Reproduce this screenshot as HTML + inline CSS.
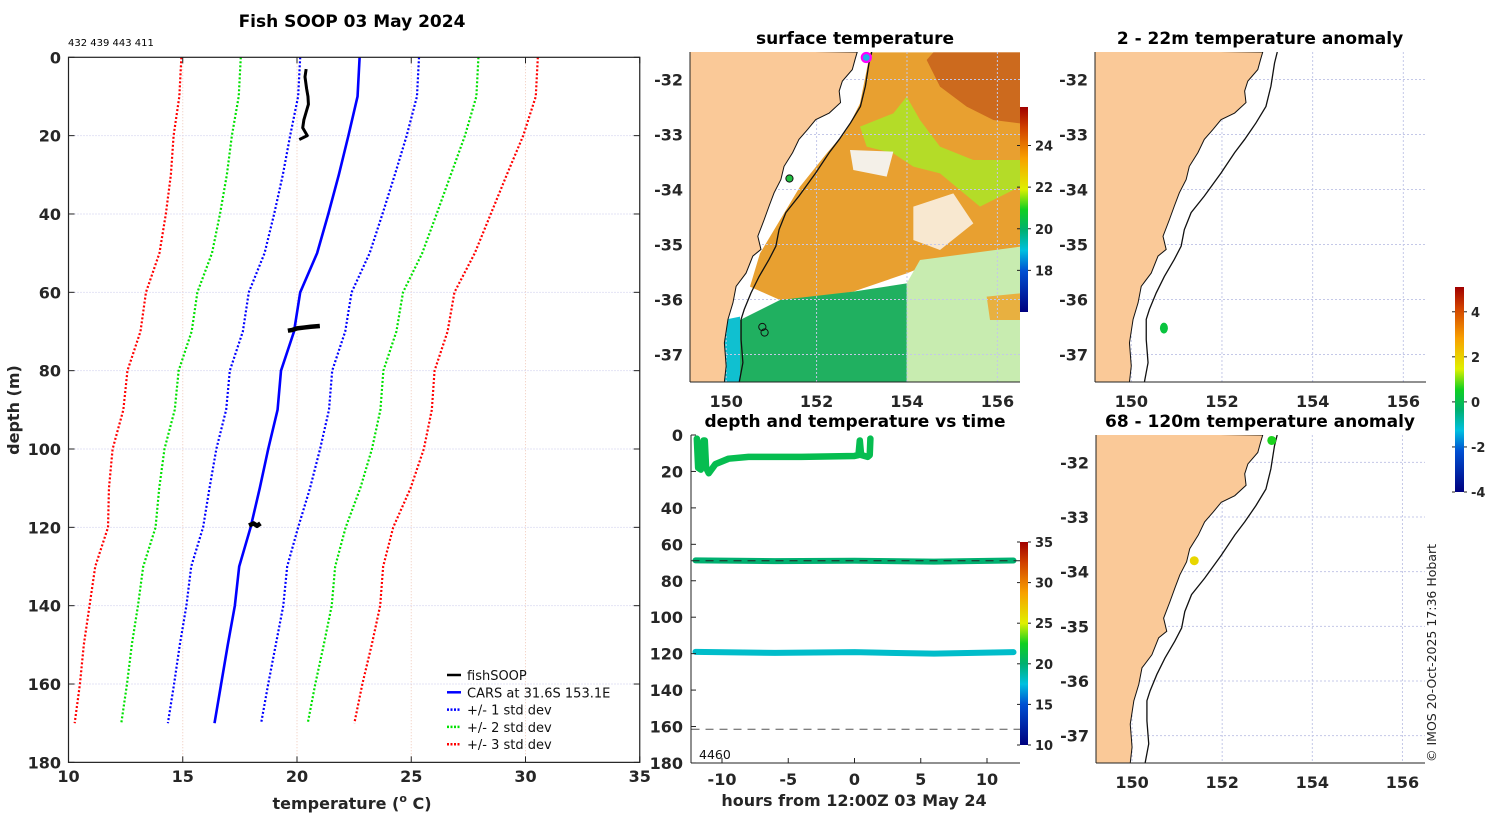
<!DOCTYPE html>
<html><head><meta charset="utf-8"><style>
html,body{margin:0;padding:0;background:#fff;}
svg{display:block;font-family:"DejaVu Sans","Liberation Sans",sans-serif;}
.tk{font-size:16px;font-weight:bold;fill:#262626;}
.ttl{font-size:17px;font-weight:bold;fill:#000;}
.cb{font-size:13px;font-weight:bold;fill:#262626;}
</style></head><body>
<svg id="fig" width="1500" height="820" viewBox="0 0 1500 820"></svg>
<script>
// ---------- profile chart data ----------
const profDepths=[0,10,20,30,40,50,60,70,80,90,100,110,120,130,140,150,160,170];
const carsTemps=[22.74,22.65,22.25,21.83,21.37,20.88,20.14,19.87,19.3,19.15,18.74,18.37,17.97,17.47,17.28,16.97,16.68,16.39];
const carsStd=[2.6,2.6,2.55,2.45,2.37,2.3,2.25,2.24,2.24,2.25,2.27,2.2,2.08,2.1,2.12,2.1,2.06,2.04];
const fishGroups=[0,0,0,0,0,0,0,0,0,0,1,1,1,1,1,1,2,2,2,2];
const fishDepths=[3,5,8,10,12,14,16,18,20,21,69.8,69.6,69.2,69,68.8,68.6,119.5,119,119.6,119];
const fishTemps=[20.4,20.35,20.42,20.48,20.5,20.4,20.3,20.25,20.45,20.1,19.6,19.8,20.0,20.3,20.6,21.0,17.9,18.1,18.25,18.4];
const tempTicks=[10,15,20,25,30,35];
const depthTicks=[0,20,40,60,80,100,120,140,160,180];
// ---------- time-depth chart data ----------
const shallowHours=[-11.9,-11.8,-11.6,-11.4,-11.3,-11.2,-11.0,-10.5,-9.5,-8,-4,0,0.3,0.4,0.5,1.0,1.15,1.2];
const shallowDepths=[2,18,19,3,3,18,21,16,13,12,12,11.5,11,3,11,12,11,2];
const shallowTemp=21.0;
const midHours=[-12,-6,0,6,12];
const midDepths=[68.8,69.2,69,69.5,68.9];
const midTemp=20.0;
const deepHours=[-12,-6,0,6,12];
const deepDepths=[119,119.6,119.2,120,119.2];
const deepTemp=18.0;
const hourTicks=[-10,-5,0,5,10];
const tdDepthTicks=[0,20,40,60,80,100,120,140,160,180];
// ---------- anomaly markers ----------
const anomShallowLon=[150.72],anomShallowLat=[-36.52],anomShallowVal=[0.2];
const anomDeepLon=[153.1,151.38],anomDeepLat=[-31.6,-33.8],anomDeepVal=[0.6,1.9];

const NS='http://www.w3.org/2000/svg';
const svg=document.getElementById('fig');
function el(tag,attrs,parent){const e=document.createElementNS(NS,tag);for(const k in attrs)e.setAttribute(k,attrs[k]);(parent||svg).appendChild(e);return e;}
function txt(s,x,y,cls,anchor,parent,extra){const t=el('text',Object.assign({x:x,y:y,class:cls,'text-anchor':anchor||'middle'},extra||{}),parent);t.textContent=s;return t;}
const stops=[[0,[0,0,127]],[0.2,[0,80,210]],[0.3,[0,192,224]],[0.4,[0,176,112]],[0.5,[16,208,32]],[0.6,[224,240,0]],[0.75,[248,160,0]],[0.9,[208,64,0]],[1,[160,0,0]]];
function cmap(t){t=Math.max(0,Math.min(1,t));for(let i=1;i<stops.length;i++){if(t<=stops[i][0]){const a=stops[i-1],b=stops[i];const f=(t-a[0])/(b[0]-a[0]);const c=a[1].map((v,j)=>Math.round(v+(b[1][j]-v)*f));return `rgb(${c[0]},${c[1]},${c[2]})`;}}return 'rgb(160,0,0)';}
function colorbar(x,y,w,h,vmin,vmax,ticks,name){
  const g=el('g',{});
  const id='grad'+name;const lg=el('linearGradient',{id:id,x1:0,y1:1,x2:0,y2:0},el('defs',{},g));
  for(let i=0;i<=20;i++)el('stop',{offset:i/20,'stop-color':cmap(i/20)},lg);
  el('rect',{x:x,y:y,width:w,height:h,fill:`url(#${id})`},g);
  ticks.forEach(v=>{const yy=y+h-(v-vmin)/(vmax-vmin)*h;el('line',{x1:x-3,x2:x,y1:yy,y2:yy,stroke:'#222'},g);el('line',{x1:x+w,x2:x+w+3,y1:yy,y2:yy,stroke:'#222'},g);txt(String(v),x+w+7,yy+5,'cb','start',g);});
}

// ================= LEFT PROFILE =================
const X=t=>68.5+(t-10)*22.85, Y=d=>57.3+d*3.917;
const gp=el('g',{});
tempTicks.forEach(t=>{if(t>10&&t<35)el('line',{x1:X(t),x2:X(t),y1:Y(0),y2:Y(180),stroke:'#f0c8b8','stroke-dasharray':'1,2'},gp);});
depthTicks.forEach(d=>{if(d>0&&d<180)el('line',{x1:X(10),x2:X(35),y1:Y(d),y2:Y(d),stroke:'#c8c8ea','stroke-dasharray':'1,2'},gp);});
function profLine(k,color,name,dash){
  const pts=profDepths.map((d,i)=>X(carsTemps[i]+k*carsStd[i])+','+Y(d)).join(' ');
  const p=el('polyline',{points:pts,fill:'none',stroke:color,'stroke-width':dash?2.2:2.6},gp);
  if(dash)p.setAttribute('stroke-dasharray','2,2');
  
}
profLine(-3,'#ff0000','minus-3-std-line',1);profLine(3,'#ff0000','plus-3-std-line',1);
profLine(-2,'#00e000','minus-2-std-line',1);profLine(2,'#00e000','plus-2-std-line',1);
profLine(-1,'#0000ff','minus-1-std-line',1);profLine(1,'#0000ff','plus-1-std-line',1);
profLine(0,'#0000ff','cars-line',0);
[0,1,2].forEach(g=>{const pts=[];fishDepths.forEach((d,i)=>{if(fishGroups[i]===g)pts.push(X(fishTemps[i])+','+Y(d));});
  const p=el('polyline',{points:pts.join(' '),fill:'none',stroke:'#000','stroke-width':g===0?3:4.5,'stroke-linejoin':'round'},gp);
  });
el('rect',{x:X(10),y:Y(0),width:X(35)-X(10),height:Y(180)-Y(0),fill:'none',stroke:'#222','stroke-width':1.2},gp);
tempTicks.forEach(t=>{el('line',{x1:X(t),x2:X(t),y1:Y(0),y2:Y(0)+6,stroke:'#222'},gp);el('line',{x1:X(t),x2:X(t),y1:Y(180),y2:Y(180)-6,stroke:'#222'},gp);txt(String(t),X(t),782,'tk','middle',gp);});
depthTicks.forEach(d=>{el('line',{x1:X(10),x2:X(10)+6,y1:Y(d),y2:Y(d),stroke:'#222'},gp);el('line',{x1:X(35),x2:X(35)-6,y1:Y(d),y2:Y(d),stroke:'#222'},gp);txt(String(d),61,Y(d)+6,'tk','end',gp);});
let t1=txt('Fish SOOP 03 May 2024',352,27,'ttl','middle',gp);
txt('432 439 443 411',68,46,'','start',gp,{'font-size':'10px',fill:'#000'});
let xl=el('text',{x:352,y:809,class:'tk','text-anchor':'middle','font-size':'17'},gp);xl.innerHTML='temperature (<tspan font-size="11" dy="-7">o</tspan><tspan dy="7"> C)</tspan>';

let yl=txt('depth (m)',0,0,'tk','middle',gp,{transform:'translate(19,410) rotate(-90)','font-size':'17'});
const leg=[['fishSOOP','#000',0],['CARS at 31.6S 153.1E','#0000ff',0],['+/- 1 std dev','#0000ff',1],['+/- 2 std dev','#00e000',1],['+/- 3 std dev','#ff0000',1]];
leg.forEach((L,i)=>{const yy=675+i*17.3;const g=el('g',{},gp);
  const l=el('line',{x1:447,x2:461,y1:yy,y2:yy,stroke:L[1],'stroke-width':2.5},g);if(L[2])l.setAttribute('stroke-dasharray','2,1.5');
  txt(L[0],467,yy+5,'','start',g,{'font-size':'13px',fill:'#111'});});

// ================= MAPS =================
const coastLon=[152.90,152.85,152.79,152.57,152.50,152.53,152.28,151.98,151.80,151.61,151.47,151.28,151.21,151.06,150.95,150.84,150.70,150.77,150.59,150.44,150.22,150.15,150.04,149.96,150.00,149.96];
const coastLat=[-31.50,-31.64,-31.82,-32.03,-32.21,-32.42,-32.61,-32.73,-32.91,-33.09,-33.33,-33.58,-33.82,-34.06,-34.30,-34.55,-34.85,-35.09,-35.21,-35.52,-35.76,-36.06,-36.36,-36.79,-37.21,-37.50];
const isoLon=[153.22,153.16,153.08,152.97,152.75,152.50,152.28,151.98,151.61,151.32,151.17,151.10,150.95,150.73,150.55,150.40,150.33,150.33,150.37,150.29];
const isoLat=[-31.50,-31.70,-32.12,-32.49,-32.79,-33.09,-33.33,-33.70,-34.12,-34.42,-34.73,-35.03,-35.27,-35.58,-35.88,-36.18,-36.36,-36.73,-37.15,-37.50];
function makeMap(L,T,W,H,name,fill){
  const g=el('g',{});
  const mx=lon=>L+(lon-149.2)*W/7.3, my=lat=>T+(-31.5-lat)*H/6;
  const cid='clip'+name;el('rect',{x:L,y:T,width:W,height:H},el('clipPath',{id:cid},el('defs',{},g)));
  const inner=el('g',{'clip-path':`url(#${cid})`},g);
  el('rect',{x:L,y:T,width:W,height:H,fill:'#fff'},inner);
  if(fill)fill(inner);
  [150,152,154,156].forEach(v=>el('line',{x1:mx(v),x2:mx(v),y1:T,y2:T+H,stroke:'#c4c8e8','stroke-dasharray':'2,2'},inner));
  [-32,-33,-34,-35,-36,-37].forEach(v=>el('line',{x1:L,x2:L+W,y1:my(v),y2:my(v),stroke:'#c4c8e8','stroke-dasharray':'2,2'},inner));
  let land=coastLon.map((v,i)=>mx(v)+','+my(coastLat[i])).join(' ');
  const lp=el('polygon',{points:land+` ${L-2},${T+H+2} ${L-2},${T-2}`,fill:'#fac998',stroke:'#111','stroke-width':1},inner);
  
  const ip=el('polyline',{points:isoLon.map((v,i)=>mx(v)+','+my(isoLat[i])).join(' '),fill:'none',stroke:'#111','stroke-width':1.3},inner);
  
  el('line',{x1:L,x2:L,y1:T,y2:T+H,stroke:'#222'},g);el('line',{x1:L,x2:L+W,y1:T+H,y2:T+H,stroke:'#222'},g);
  [150,152,154,156].forEach(v=>txt(String(v),mx(v),T+H+25,'tk','middle',g));
  [-32,-33,-34,-35,-36,-37].forEach(v=>txt(String(v),L-7,my(v)+6,'tk','end',g));
  return {g,mx,my,inner};
}
// surface temperature map
const z3=(X,Y)=>(640+X/3)+','+(20+Y/3);
const poly=(arr,c,p,nm)=>{const e=el('polygon',{points:arr.map(a=>z3(a[0],a[1])).join(' '),fill:c},p);};
const m1=makeMap(690,52,330,330,'surface-temperature-map',inner=>{
  poly([[690,97],[1140,97],[1140,700],[900,720],[800,760],[640,815],[480,840],[420,840],[330,800],[360,700],[420,600],[480,500],[560,400],[620,330],[660,250],[680,150]],'#e8a030',inner,'sst-warm-region');
  poly([[880,97],[1140,97],[1140,310],[1060,300],[980,260],[900,200],[860,120]],'#cc6a1e',inner,'sst-hot-region');
  poly([[660,320],[760,280],[800,230],[840,300],[900,380],[1000,420],[1140,420],[1140,500],[1020,560],[900,460],[820,440],[760,400],[680,380]],'#b4dc28',inner,'sst-front');
  poly([[630,390],[760,395],[740,470],[640,450]],'#f4f0e8',inner,'sst-gap');
  poly([[820,560],[940,520],[1000,610],[900,690],[820,660]],'#f8e8d0',inner,'sst-gap');
  poly([[840,720],[1140,680],[1140,1087],[800,1087],[800,790]],'#c8ecb0',inner,'sst-sparse');
  poly([[300,900],[420,840],[640,815],[800,790],[800,1087],[300,1087]],'#20b060',inner,'sst-cool-region');
  poly([[250,900],[300,890],[300,1087],[250,1087]],'#10c0d0',inner,'sst-coastal-cold');
  poly([[1040,830],[1140,820],[1140,900],[1050,900]],'#e8b040',inner,'sst-warm-patch');
});
const smk=(lon,lat,r,f,s,sw)=>el('circle',{cx:m1.mx(lon),cy:m1.my(lat),r:r,fill:f,stroke:s,'stroke-width':sw},m1.g);
smk(153.1,-31.6,4.5,'#20b0e8','#ff00ff',2.2);smk(151.4,-33.8,3.6,'#20c040','#111',1);
smk(150.8,-36.5,3.6,'none','#111',1);smk(150.85,-36.6,3.6,'none','#111',1);
txt('surface temperature',855,44,'ttl','middle');
colorbar(1020,107,8,205,16,25.85,[18,20,22,24],'sst-colorbar');

// anomaly maps
const m2=makeMap(1095,52,331,330,'shallow-anomaly-map');
anomShallowLon.forEach((v,i)=>{const e=el('ellipse',{cx:m2.mx(v),cy:m2.my(anomShallowLat[i]),rx:4,ry:5.5,fill:cmap((anomShallowVal[i]+4)/9.1)},m2.g);});
txt('2 - 22m temperature anomaly',1260,44,'ttl','middle');
const m3=makeMap(1096,435,329,328,'deep-anomaly-map');
anomDeepLon.forEach((v,i)=>{const e=el('circle',{cx:m3.mx(v),cy:m3.my(anomDeepLat[i]),r:4.5,fill:cmap((anomDeepVal[i]+4)/9.1)},m3.g);});
txt('68 - 120m temperature anomaly',1260,427,'ttl','middle');
colorbar(1455,287,9,205,-4,5.1,[-4,-2,0,2,4],'anomaly-colorbar');
let cp=txt('© IMOS 20-Oct-2025 17:36 Hobart',0,0,'','start',null,{transform:'translate(1436,762) rotate(-90)','font-size':'12.5px',fill:'#222'});


// ================= TIME-DEPTH =================
const TX=h=>722+(h+10)*13.25, TY=d=>435+d*1.822;
const gt=el('g',{});
function trace(hs,ds,temp,name,w){const p=el('polyline',{points:hs.map((h,i)=>TX(h)+','+TY(ds[i])).join(' '),fill:'none',stroke:cmap((temp-10)/25),'stroke-width':w,'stroke-linejoin':'round','stroke-linecap':'round'},gt);}
trace(shallowHours,shallowDepths,shallowTemp,'shallow-sensor-trace',6.5);
trace(midHours,midDepths,midTemp,'mid-sensor-trace',6);
trace(deepHours,deepDepths,deepTemp,'deep-sensor-trace',6);
el('line',{x1:TX(-12.3),x2:TX(12.5),y1:TY(69),y2:TY(69),stroke:'#222','stroke-dasharray':'8,6'},gt);
el('line',{x1:TX(-12.3),x2:TX(12.5),y1:TY(161.5),y2:TY(161.5),stroke:'#555','stroke-dasharray':'8,6'},gt);
el('line',{x1:691,x2:691,y1:435,y2:763,stroke:'#222'},gt);el('line',{x1:691,x2:1020,y1:763,y2:763,stroke:'#222'},gt);
hourTicks.forEach(h=>{el('line',{x1:TX(h),x2:TX(h),y1:763,y2:758,stroke:'#222'},gt);txt(String(h),TX(h),785,'tk','middle',gt);});
tdDepthTicks.forEach(d=>{el('line',{x1:691,x2:696,y1:TY(d),y2:TY(d),stroke:'#222'},gt);txt(String(d),683,TY(d)+6,'tk','end',gt);});
txt('4460',699,759,'','start',gt,{'font-size':'12.5px',fill:'#111'});
txt('depth and temperature vs time',855,427,'ttl','middle');
txt('hours from 12:00Z 03 May 24',854,806,'tk','middle',null,{'font-size':'17'});
colorbar(1020,542,8,203,10,35,[10,15,20,25,30,35],'temperature-colorbar');
</script>
</body></html>
